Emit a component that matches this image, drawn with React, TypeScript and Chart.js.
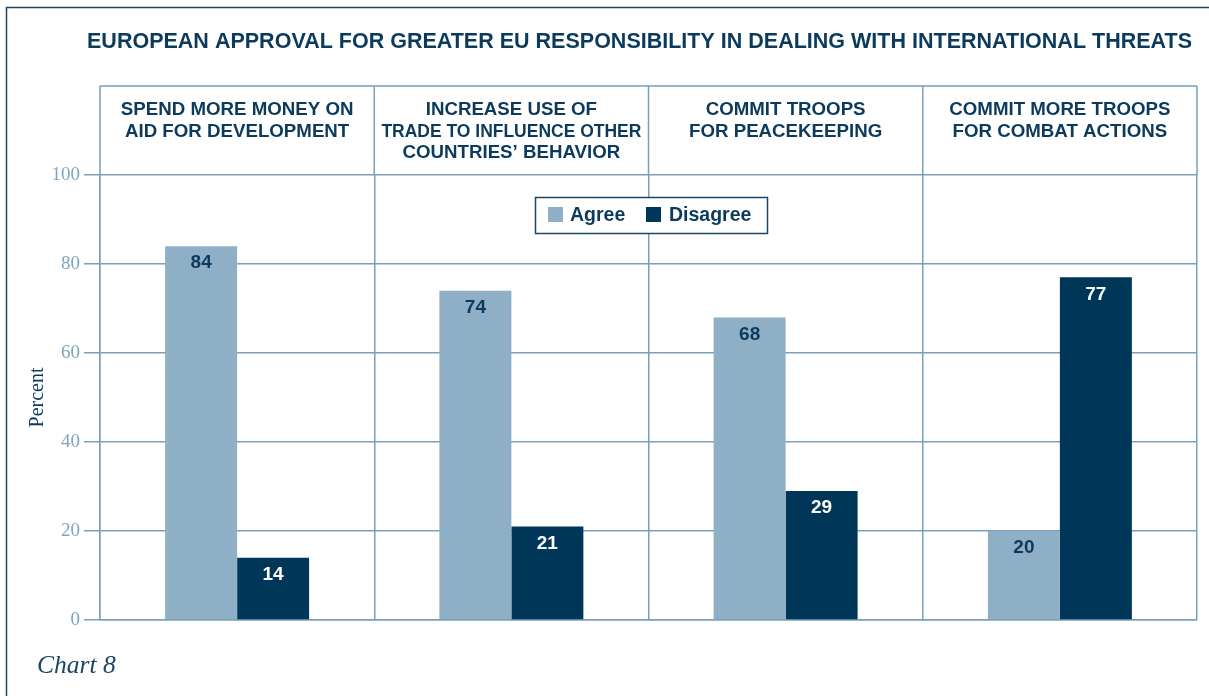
import React, { useEffect, useRef } from "react";
import { Chart, registerables } from "chart.js";

Chart.register(...registerables);

const categories: string[][] = [
  ["SPEND MORE MONEY ON", "AID FOR DEVELOPMENT"],
  ["INCREASE USE OF", "TRADE TO INFLUENCE OTHER", "COUNTRIES’ BEHAVIOR"],
  ["COMMIT TROOPS", "FOR PEACEKEEPING"],
  ["COMMIT MORE TROOPS", "FOR COMBAT ACTIONS"],
];
const agreeValues = [84, 74, 68, 20];
const disagreeValues = [14, 21, 29, 77];
const seriesNames = ["Agree", "Disagree"];
const chartTitle = "EUROPEAN APPROVAL FOR GREATER EU RESPONSIBILITY IN DEALING WITH INTERNATIONAL THREATS";
const axisTitle = "Percent";
const footnote = "Chart 8";

const NAVY = "#0b3a5c";
const AGREE = "#8eafc5";
const DISAGREE = "#003657";
const GRID = "#7a9fba";
const TICK = "#7fa5c0";
const SANS = "'Liberation Sans', Arial, sans-serif";
const SERIF = "'Liberation Serif', 'DejaVu Serif', serif";

const decorPlugin = {
  id: "decor",
  beforeDraw(chart: any) {
    const ctx = chart.ctx;
    ctx.save();
    ctx.fillStyle = "#ffffff";
    ctx.fillRect(0, 0, chart.width, chart.height);
    // outer frame
    ctx.strokeStyle = "#1b4767";
    ctx.lineWidth = 1.5;
    ctx.strokeRect(6.5, 7.5, chart.width + 20, chart.height + 20);
    ctx.restore();
  },
  afterDraw(chart: any) {
    const ctx = chart.ctx;
    const area = chart.chartArea;
    const x = chart.scales.x;
    const headerTop = 86;
    ctx.save();
    // title
    ctx.fillStyle = NAVY;
    ctx.font = `bold 22px ${SANS}`;
    ctx.textAlign = "left";
    ctx.textBaseline = "middle";
    const tw = ctx.measureText(chartTitle).width;
    const target = 1105;
    ctx.save();
    ctx.translate(87, 42);
    ctx.scale(target / tw, 1);
    ctx.fillText(chartTitle, 0, 0);
    ctx.restore();

    // header box
    ctx.strokeStyle = GRID;
    ctx.lineWidth = 1.5;
    ctx.beginPath();
    ctx.moveTo(area.left, headerTop);
    ctx.lineTo(area.right, headerTop);
    const n = categories.length;
    const w = (area.right - area.left) / n;
    for (let i = 0; i <= n; i++) {
      const lx = i === n ? area.right : x.getPixelForTick(i) - w / 2;
      ctx.moveTo(lx, headerTop);
      ctx.lineTo(lx, area.top);
    }
    ctx.stroke();

    ctx.fillStyle = NAVY;
    ctx.font = `bold 18.7px ${SANS}`;
    ctx.textAlign = "center";
    ctx.textBaseline = "middle";
    categories.forEach((lines, i) => {
      const cx = x.getPixelForTick(i);
      lines.forEach((ln, j) => {
        ctx.fillText(ln, cx, 110 + j * 21.5, 260);
      });
    });

    // legend
    const lx = 535, ly = 197, lw = 232, lh = 36;
    ctx.fillStyle = "#ffffff";
    ctx.fillRect(lx, ly, lw, lh);
    ctx.strokeStyle = "#1b4767";
    ctx.lineWidth = 1.5;
    ctx.strokeRect(lx + 0.5, ly + 0.5, lw, lh);
    ctx.font = `bold 19.5px ${SANS}`;
    ctx.textAlign = "left";
    ctx.fillStyle = AGREE;
    ctx.fillRect(548, 207, 15, 15);
    ctx.fillStyle = NAVY;
    ctx.fillText(seriesNames[0], 570, 215.5);
    ctx.fillStyle = DISAGREE;
    ctx.fillRect(646, 207, 15, 15);
    ctx.fillStyle = NAVY;
    ctx.fillText(seriesNames[1], 669, 215.5);

    // value labels
    ctx.font = `bold 19px ${SANS}`;
    ctx.textAlign = "center";
    ctx.textBaseline = "middle";
    chart.data.datasets.forEach((ds: any, di: number) => {
      const meta = chart.getDatasetMeta(di);
      meta.data.forEach((bar: any, i: number) => {
        ctx.fillStyle = di === 0 ? NAVY : "#ffffff";
        ctx.fillText(String(ds.data[i]), bar.x, bar.y + 17);
      });
    });

    // footnote
    ctx.fillStyle = "#1b4767";
    ctx.font = `italic 25.5px ${SERIF}`;
    ctx.textAlign = "left";
    ctx.textBaseline = "alphabetic";
    ctx.fillText(footnote, 37, 673);
    ctx.restore();
  },
};

export default function App() {
  const ref = useRef<HTMLCanvasElement>(null);
  useEffect(() => {
    if (!ref.current) return;
    const chart = new Chart(ref.current, {
      type: "bar",
      data: {
        labels: categories.map((c) => c.join(" ")),
        datasets: [
          { label: seriesNames[0], data: agreeValues, backgroundColor: AGREE, categoryPercentage: 0.525, barPercentage: 1 },
          { label: seriesNames[1], data: disagreeValues, backgroundColor: DISAGREE, categoryPercentage: 0.525, barPercentage: 1 },
        ],
      },
      options: {
        responsive: false,
        animation: false,
        layout: { padding: { top: 175, right: 12, bottom: 76, left: 0 } },
        plugins: { legend: { display: false }, tooltip: { enabled: false }, title: { display: false } },
        scales: {
          x: {
            type: "category",
            offset: true,
            ticks: { display: false },
            grid: { offset: true, color: GRID, lineWidth: 1.5, drawTicks: false },
            border: { display: true, color: GRID, width: 1.5 },
            afterFit: (s: any) => { s.height = 0; },
          },
          y: {
            min: 0,
            max: 100,
            ticks: { stepSize: 20, color: TICK, font: { family: SERIF, size: 19 }, padding: 4 },
            grid: { color: GRID, lineWidth: 1.5, tickLength: 16 },
            border: { display: true, color: GRID, width: 1.5 },
            title: { display: true, text: axisTitle, color: NAVY, font: { family: SERIF, size: 20 }, padding: { top: 26, bottom: 0 } },
            afterFit: (s: any) => { s.width = 100; },
          },
        },
      },
      plugins: [decorPlugin],
    });
    return () => chart.destroy();
  }, []);
  return (
    <div style={{ position: "absolute", left: 0, top: 0, width: 1209, height: 696 }}>
      <canvas ref={ref} width={1209} height={696} />
    </div>
  );
}
